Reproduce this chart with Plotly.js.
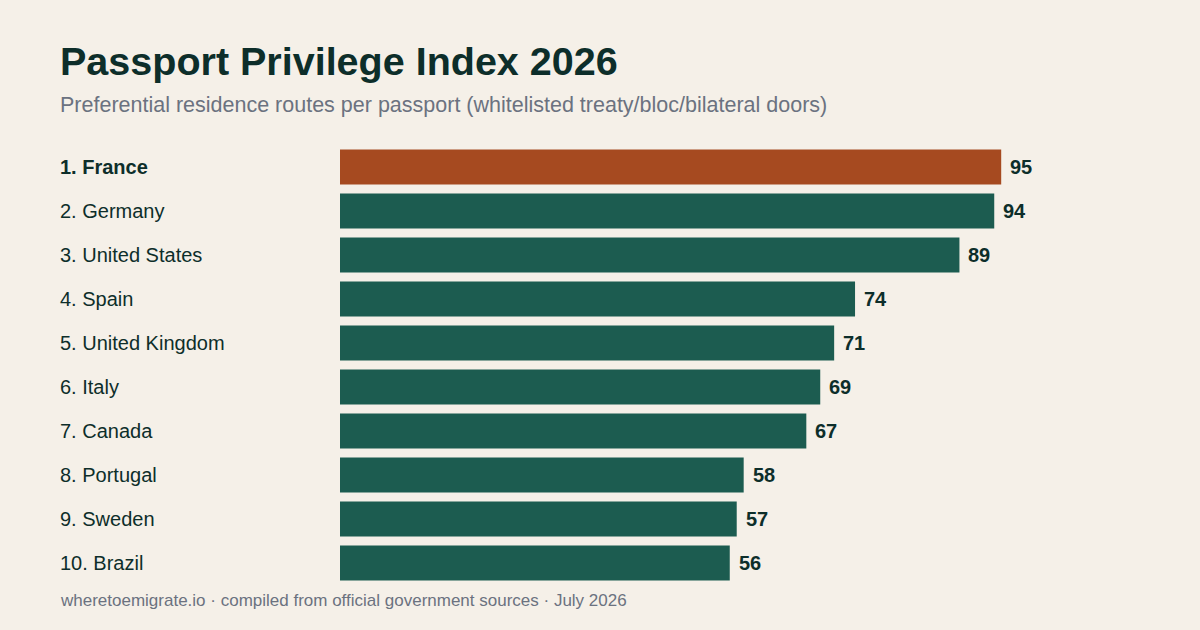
<!DOCTYPE html>
<html>
<head>
<meta charset="utf-8">
<script src="https://cdn.plot.ly/plotly-3.0.1.min.js"></script>
<style>
  html, body { margin: 0; padding: 0; background: #f5f0e8; }
  #chart { width: 1200px; height: 630px; }
</style>
</head>
<body>
<div id="chart"></div>
<script>
// Ranked passports and their count of preferential residence routes
const countries = ["France", "Germany", "United States", "Spain", "United Kingdom",
                   "Italy", "Canada", "Portugal", "Sweden", "Brazil"];
const routes = [95, 94, 89, 74, 71, 69, 67, 58, 57, 56];

const TEAL = "#1c5c50";
const RUST = "#a64a20";
const INK = "#0d2e2a";
const GREY = "#6b7280";
const FONT = "Liberation Sans, Arial, sans-serif";

// Layout geometry (pixels)
const W = 1200, H = 630;
const L = 340, R = 164, T = 145, B = 45;
const plotW = W - L - R, plotH = H - T - B;
const px2x = px => (px - L) / plotW;      // page x -> paper x
const py2y = py => (H - B - py) / plotH;  // page y -> paper y

const barColors = routes.map((v, i) => i === 0 ? RUST : TEAL);

const trace = {
  type: "bar",
  orientation: "h",
  x: routes,
  y: countries,
  marker: { color: barColors },
  width: 0.8,
  hoverinfo: "skip"
};

const annotations = [];

// Rank + country name at the left edge
countries.forEach((c, i) => {
  annotations.push({
    xref: "paper", yref: "y",
    x: px2x(58), y: c,
    xanchor: "left", yanchor: "middle",
    text: i === 0 ? `<b>${i + 1}. ${c}</b>` : `${i + 1}. ${c}`,
    showarrow: false,
    font: { family: FONT, size: 20, color: INK }
  });
  // Value label just past the bar end
  annotations.push({
    xref: "x", yref: "y",
    x: routes[i], y: c,
    xanchor: "left", yanchor: "middle",
    xshift: 7,
    text: `<b>${routes[i]}</b>`,
    showarrow: false,
    font: { family: FONT, size: 20, color: INK }
  });
});

// Title, subtitle, footer
annotations.push({
  xref: "paper", yref: "paper", x: px2x(58), y: py2y(61),
  xanchor: "left", yanchor: "middle", showarrow: false,
  text: "<b>Passport Privilege Index 2026</b>",
  font: { family: FONT, size: 39.5, color: INK }
});
annotations.push({
  xref: "paper", yref: "paper", x: px2x(58), y: py2y(105),
  xanchor: "left", yanchor: "middle", showarrow: false,
  text: "Preferential residence routes per passport (whitelisted treaty/bloc/bilateral doors)",
  font: { family: FONT, size: 21.5, color: GREY }
});
annotations.push({
  xref: "paper", yref: "paper", x: px2x(58), y: py2y(600),
  xanchor: "left", yanchor: "middle", showarrow: false,
  text: "wheretoemigrate.io · compiled from official government sources · July 2026",
  font: { family: FONT, size: 17, color: GREY }
});

const layout = {
  width: W, height: H,
  margin: { l: L, r: R, t: T, b: B, pad: 0 },
  paper_bgcolor: "#f5f0e8",
  plot_bgcolor: "#f5f0e8",
  showlegend: false,
  xaxis: { range: [0, 100], visible: false, fixedrange: true },
  yaxis: { autorange: "reversed", visible: false, fixedrange: true, type: "category" },
  bargap: 0.2,
  annotations: annotations
};

Plotly.newPlot("chart", [trace], layout, { displayModeBar: false, staticPlot: true });
</script>
</body>
</html>
